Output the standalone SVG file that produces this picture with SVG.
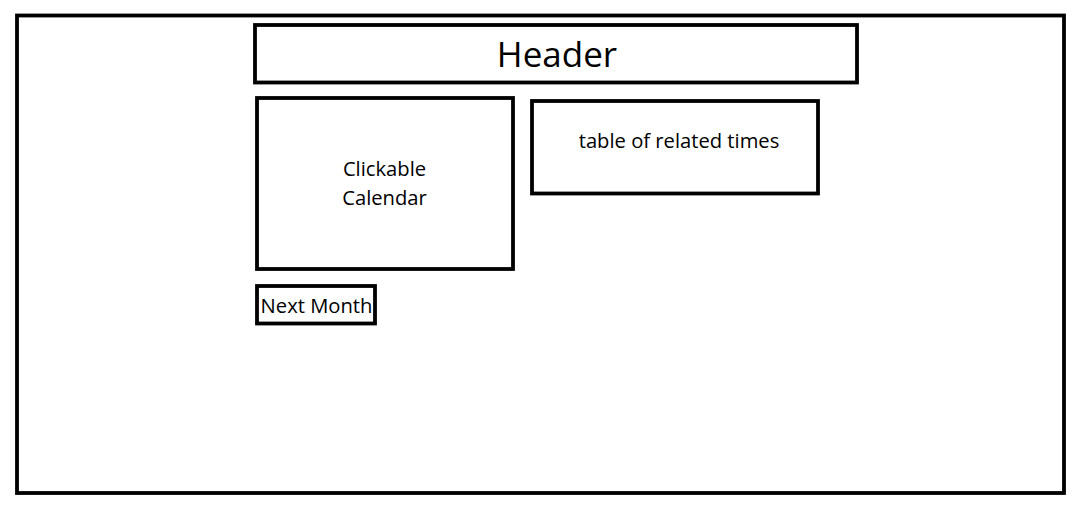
<svg xmlns="http://www.w3.org/2000/svg" width="1080" height="511" viewBox="0 0 1080 511">
<style>
.box{fill:#fff;stroke:#000;stroke-width:3.8}
.t{font-family:"Open Sans","Noto Sans","DejaVu Sans",sans-serif;fill:#000;text-anchor:middle}
.s{font-size:20.2px}
</style>
<rect width="1080" height="511" fill="#fff"/>
<g id="frame"><rect class="box" x="17" y="15.5" width="1047" height="477.5"/></g>
<g id="header"><rect class="box" x="255" y="25" width="602" height="57.5"/><text class="t" x="557" y="67" font-size="35">Header</text></g>
<g id="calendar"><rect class="box" x="257" y="98" width="256" height="171"/><text class="t s" x="384.5" y="176">Clickable</text><text class="t s" x="384.5" y="205">Calendar</text></g>
<g id="table"><rect class="box" x="532" y="101" width="286" height="92.5"/><text class="t s" x="679" y="148">table of related times</text></g>
<g id="next"><rect class="box" x="257" y="286" width="118" height="37.5"/><text class="t s" x="316.5" y="313">Next Month</text></g>
<g id="connectors"></g>
</svg>
